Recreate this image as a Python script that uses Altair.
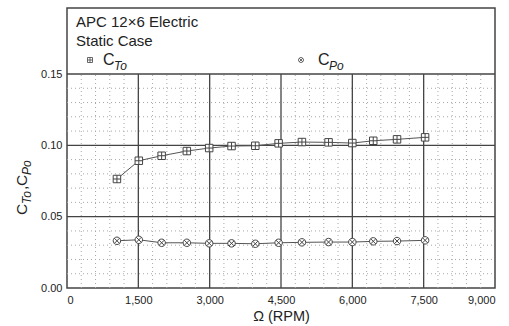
import altair as alt
import pandas as pd

# ---- data ----
rpm_ct = [1050, 1510, 1990, 2520, 2990, 3460, 3960, 4450, 4940, 5500, 6000, 6440, 6940, 7530]
ct = [0.0764, 0.0892, 0.0927, 0.0960, 0.0981, 0.0995, 0.0997, 0.1014, 0.1023, 0.1021, 0.1016, 0.1032, 0.1042, 0.1056]
rpm_cp = [1050, 1510, 1990, 2520, 2990, 3460, 3960, 4450, 4940, 5500, 6000, 6440, 6940, 7530]
cp = [0.0331, 0.0338, 0.0317, 0.0317, 0.0313, 0.0313, 0.0310, 0.0317, 0.0320, 0.0322, 0.0322, 0.0327, 0.0329, 0.0334]

x_ticks = [0, 1500, 3000, 4500, 6000, 7500, 9000]
y_ticks = [0.0, 0.05, 0.10, 0.15]
title_lines = ["APC 12\u00d76 Electric", "Static Case"]

SQ_PLUS = "M-1,-1L1,-1L1,1L-1,1Z M-1,0L1,0 M0,-1L0,1"
CIRC_X = "M-1,0A1,1,0,1,1,1,0A1,1,0,1,1,-1,0Z M-0.7,-0.7L0.7,0.7 M-0.7,0.7L0.7,-0.7"

df = pd.DataFrame({
    "rpm": rpm_ct + rpm_cp,
    "val": ct + cp,
    "series": ["CT"] * len(ct) + ["CP"] * len(cp),
})

W, H = 428, 280
XMAX = 9000
YTOP = 0.15 * 280 / 214.0

xs = alt.Scale(domain=[0, XMAX], nice=False, zero=False)
ys = alt.Scale(domain=[0, YTOP], nice=False, zero=False)
FONT = "Liberation Sans"
xaxis = alt.Axis(values=x_ticks, format=",.0f", grid=False, ticks=False, domain=False,
                 labelFont=FONT, labelFontSize=11, labelColor="#222", labelPadding=6,
                 title="\u03a9 (RPM)", titleFont=FONT, titleFontSize=14.5, titleFontWeight="normal",
                 titleColor="#222", titlePadding=4)
yaxis = alt.Axis(values=y_ticks, format=".2f", grid=False, ticks=False, domain=False,
                 labelFont=FONT, labelFontSize=11, labelColor="#222", labelPadding=5, title=None)

# grid data
minor_v = [v for v in range(300, XMAX, 300) if v % 1500 != 0]
minor_h = [round(i * 0.01, 2) for i in range(1, 15) if i % 5 != 0]
major_v = [1500, 3000, 4500, 6000, 7500]
major_h = [0.05, 0.10, 0.15]

def X(f="x"):
    return alt.X(f"{f}:Q", scale=xs, axis=xaxis)

def Y(f="y"):
    return alt.Y(f"{f}:Q", scale=ys, axis=yaxis)

mv = alt.Chart(pd.DataFrame({"x": minor_v, "y": 0.0, "y2": 0.15})).mark_rule(
    color="#a8a8a8", strokeWidth=1, strokeDash=[1, 3]).encode(x=X(), y=Y(), y2="y2:Q")
mh = alt.Chart(pd.DataFrame({"y": minor_h, "x": 0, "x2": XMAX})).mark_rule(
    color="#a8a8a8", strokeWidth=1, strokeDash=[1, 3]).encode(y=Y(), x=X(), x2="x2:Q")
Mv = alt.Chart(pd.DataFrame({"x": major_v, "y": 0.0, "y2": 0.15})).mark_rule(
    color="#444", strokeWidth=1.3).encode(x=X(), y=Y(), y2="y2:Q")
Mh = alt.Chart(pd.DataFrame({"y": major_h, "x": 0, "x2": XMAX})).mark_rule(
    color="#444", strokeWidth=1.3).encode(y=Y(), x=X(), x2="x2:Q")

lines = alt.Chart(df).mark_line(color="#555", strokeWidth=1).encode(
    x=X("rpm"), y=Y("val"), detail="series:N")
pts = alt.Chart(df).mark_point(filled=False, fill="white", fillOpacity=1, stroke="#444",
                               strokeWidth=1, size=56, opacity=1).encode(
    x=X("rpm"), y=Y("val"),
    shape=alt.Shape("series:N", scale=alt.Scale(domain=["CT", "CP"], range=[SQ_PLUS, CIRC_X]), legend=None))

def txt(s, x, y, size=15, style="normal", angle=0, align="left", baseline="alphabetic"):
    return alt.Chart(pd.DataFrame({"t": [s]})).mark_text(
        font=FONT, fontSize=size, fontStyle=style, color="#222", align=align,
        baseline=baseline, angle=angle).encode(text="t:N", x=alt.value(x), y=alt.value(y))

def sym(shape, x, y):
    return alt.Chart(pd.DataFrame({"a": [0]})).mark_point(
        shape=shape, filled=False, stroke="#444", strokeWidth=0.8, size=25, opacity=1).encode(
        x=alt.value(x), y=alt.value(y))

texts = [
    txt(title_lines[0], 9, 19),
    txt(title_lines[1], 9, 38),
    sym(SQ_PLUS, 23, 52),
    txt("C", 36, 57, size=16),
    txt("To", 47, 62, size=12, style="italic"),
    sym(CIRC_X, 234, 52),
    txt("C", 251, 57, size=16),
    txt("Po", 262, 62, size=12, style="italic"),
    # rotated y title
    txt("C", -40, 207, size=15.5, angle=270),
    txt("To", -36, 196, size=12, style="italic", angle=270),
    txt(",", -40, 182, size=15.5, angle=270),
    txt("C", -40, 178, size=15.5, angle=270),
    txt("Po", -36, 167, size=12, style="italic", angle=270),
]

chart = alt.layer(mv, mh, Mv, Mh, lines, pts, *texts).properties(
    width=W, height=H,
    autosize=alt.AutoSizeParams(type="none"),
    padding={"left": 67, "top": 8, "right": 14, "bottom": 38},
    background="white",
).configure_view(stroke="#444", strokeWidth=1.5)

chart.save("out.html", embed_options={"renderer": "svg", "actions": False})
